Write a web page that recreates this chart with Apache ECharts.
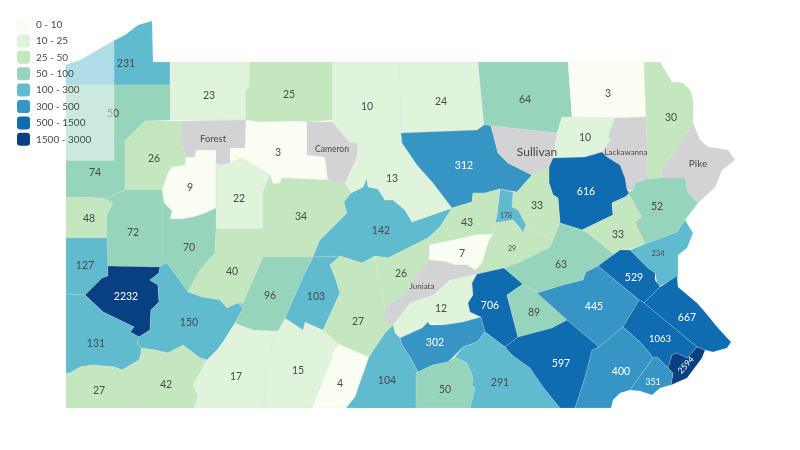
<!DOCTYPE html>
<html>
<head>
<meta charset="utf-8">
<style>html,body{margin:0;background:#fff}#chart-pa{width:800px;height:450px}</style>
<script src="https://cdn.jsdelivr.net/npm/echarts@6/dist/echarts.min.js"></script>
</head>
<body>
<div id="chart-pa"></div>
<script>
var counties = ['Erie','Crawford','Warren','McKean','Potter','Tioga','Bradford','Susquehanna','Wayne','Mercer','Venango','Forest','Elk','Cameron','Clarion','Jefferson','Clearfield','Lawrence','Butler','Armstrong','Indiana','Beaver','Allegheny','Westmoreland','Washington','Greene','Fayette','Somerset','Bedford','Fulton','Cambria','Blair','Centre','Clinton','Lycoming','Sullivan','Wyoming','Lackawanna','Pike','Luzerne','Columbia','Montour','Northumberland','Union','Snyder','Mifflin','Juniata','Huntingdon','Perry','Cumberland','Dauphin','Lebanon','Schuylkill','Carbon','Monroe','Northampton','Lehigh','Berks','Bucks','Montgomery','Philadelphia','Chester','Delaware','Franklin','Adams','York','Lancaster'];
var cases = [231,50,23,25,10,24,64,3,30,74,26,null,3,null,9,22,34,48,72,70,40,127,2232,150,131,27,42,17,15,4,96,103,142,13,312,null,10,null,null,616,33,178,29,43,7,26,null,27,12,302,706,89,63,33,52,234,529,445,667,1063,2594,400,351,104,50,291,597];
var binLabels = ['0 - 10','10 - 25','25 - 50','50 - 100','100 - 300','300 - 500','500 - 1500','1500 - 3000'];
var binEdges = [0,10,25,50,100,300,500,1500,3000];
var binColors = ['#f9fdf2','#e0f3db','#c4e7bf','#96d5bb','#60bbcf','#3795c5','#0f6cb0','#084081'];

// county outlines, in page pixels
var shapes = {
  Erie:[[65,65],[80,60],[113,41],[125,35],[138,25],[152,21],[153,62],[170,62],[170,85],[66,85]],
  Crawford:[[66,85],[170,85],[170,120],[145,121],[125,141],[66,141]],
  Warren:[[170,62],[250,62],[249,88],[246,90],[246,120],[170,120]],
  McKean:[[250,62],[332,62],[332,120],[307,122],[299,121],[260,122],[246,120],[246,90],[249,88]],
  Potter:[[332,62],[400,62],[401,133],[402,143],[350,143],[332,122],[332,120]],
  Tioga:[[400,62],[478,62],[484,125],[477,130],[401,133]],
  Bradford:[[478,62],[568,62],[572,117],[562,117],[557,133],[520,129],[491,126],[487,125],[484,125]],
  Susquehanna:[[568,62],[644,62],[646,117],[615,118],[572,117]],
  Wayne:[[644,62],[660,62],[672,82],[683,83],[690,90],[693,100],[693,123],[677,150],[663,165],[660,178],[648,179],[646,117]],
  Mercer:[[66,141],[125,141],[125,190],[105,199],[100,198],[66,197]],
  Venango:[[145,121],[182,121],[182,140],[185,155],[186,157],[185,165],[172,167],[168,173],[162,190],[125,190],[125,141]],
  Forest:[[182,121],[246,120],[245,148],[230,148],[230,163],[220,165],[216,163],[216,150],[196,150],[195,157],[186,157],[185,155],[182,140]],
  Elk:[[246,120],[260,122],[299,121],[307,124],[307,155],[325,157],[328,180],[282,178],[280,183],[273,184],[270,175],[242,158],[230,163],[230,148],[245,148]],
  Cameron:[[307,122],[332,122],[350,143],[357,143],[357,157],[345,183],[328,180],[325,157],[307,155]],
  Clarion:[[186,157],[195,157],[196,150],[216,150],[216,208],[203,214],[193,217],[182,219],[170,219],[172,211],[164,203],[162,190],[168,173],[172,167],[185,165]],
  Jefferson:[[216,163],[220,165],[230,163],[242,158],[270,175],[263,192],[263,229],[216,229]],
  Clearfield:[[263,192],[270,175],[273,184],[280,183],[282,178],[328,180],[345,183],[351,193],[344,202],[347,213],[333,227],[320,240],[313,257],[263,257],[263,229]],
  Lawrence:[[66,197],[100,198],[105,199],[113,203],[107,215],[107,238],[66,238]],
  Butler:[[125,190],[162,190],[162,265],[160,267],[108,266],[107,238],[107,215],[113,203],[105,199]],
  Armstrong:[[162,190],[164,203],[172,211],[170,219],[182,219],[193,217],[203,214],[216,208],[216,229],[215,253],[200,270],[188,292],[178,278],[172,270],[167,263],[162,265]],
  Indiana:[[216,229],[263,229],[263,257],[243,303],[238,303],[227,308],[220,300],[202,297],[188,292],[200,270],[215,253]],
  Beaver:[[66,238],[107,238],[108,266],[108,276],[102,278],[85,295],[66,294]],
  Allegheny:[[108,266],[160,267],[159,273],[150,280],[158,285],[159,302],[151,310],[150,330],[139,337],[130,332],[134,327],[103,312],[85,295],[102,278],[108,276]],
  Westmoreland:[[160,267],[162,265],[167,263],[172,270],[178,278],[188,292],[202,297],[220,300],[227,308],[238,303],[243,308],[235,323],[223,342],[217,350],[207,360],[200,358],[183,345],[168,353],[155,350],[141,348],[137,343],[139,337],[150,330],[151,310],[159,302],[158,285],[150,280],[159,273]],
  Washington:[[66,294],[85,295],[103,312],[134,327],[130,332],[139,337],[137,343],[141,348],[141,353],[139,360],[122,370],[115,367],[93,365],[80,367],[70,373],[66,373]],
  Greene:[[66,373],[70,373],[80,367],[93,365],[115,367],[122,370],[134,363],[134,408],[66,408]],
  Fayette:[[134,363],[139,360],[141,353],[141,348],[155,350],[168,353],[183,345],[200,358],[207,360],[205,363],[193,385],[198,395],[194,408],[134,408]],
  Somerset:[[207,360],[217,350],[223,342],[235,323],[253,330],[278,331],[268,358],[264,408],[194,408],[198,395],[193,385],[205,363]],
  Bedford:[[278,331],[285,318],[303,330],[305,322],[323,330],[339,344],[333,352],[332,358],[312,408],[264,408],[268,358]],
  Fulton:[[339,344],[369,357],[355,397],[346,408],[312,408],[332,358],[333,352]],
  Cambria:[[263,257],[313,257],[303,277],[293,300],[285,318],[278,331],[253,330],[235,323],[243,308],[238,303],[243,303]],
  Blair:[[313,257],[340,256],[330,265],[335,277],[340,293],[323,330],[305,322],[303,330],[285,318],[293,300],[303,277]],
  Centre:[[351,193],[363,187],[367,178],[368,187],[378,189],[385,200],[393,200],[405,210],[412,222],[452,208],[440,227],[428,238],[388,258],[375,256],[362,263],[340,256],[313,257],[320,240],[333,227],[347,213],[344,202]],
  Clinton:[[357,143],[402,143],[417,165],[433,183],[452,208],[412,222],[405,210],[393,200],[385,200],[378,189],[368,187],[367,178],[363,187],[351,193],[345,183],[357,157]],
  Lycoming:[[401,133],[477,130],[484,125],[487,125],[491,126],[498,153],[508,163],[532,175],[517,192],[500,189],[485,193],[473,193],[472,202],[452,208],[433,183],[417,165],[402,143]],
  Sullivan:[[491,126],[520,129],[557,133],[553,158],[549,167],[532,175],[508,163],[498,153]],
  Wyoming:[[562,117],[572,117],[615,118],[608,137],[611,140],[602,152],[585,157],[553,158],[557,133]],
  Lackawanna:[[615,118],[646,117],[648,179],[635,183],[633,190],[627,190],[625,178],[620,165],[607,157],[602,152],[611,140],[608,137]],
  Pike:[[693,123],[700,140],[708,147],[728,150],[735,160],[722,170],[715,187],[698,203],[688,193],[685,178],[660,178],[663,165],[677,150]],
  Luzerne:[[553,158],[585,157],[602,152],[607,157],[620,165],[625,178],[627,190],[630,193],[625,197],[612,203],[613,215],[582,230],[560,223],[558,198],[553,195],[549,183],[549,167]],
  Columbia:[[513,192],[517,192],[532,175],[549,167],[549,183],[553,195],[558,198],[560,223],[553,240],[526,225],[518,210],[512,207]],
  Montour:[[500,189],[513,192],[512,207],[518,210],[526,225],[523,233],[520,228],[513,220],[495,223],[497,215]],
  Northumberland:[[493,234],[495,223],[513,220],[520,228],[523,233],[526,225],[553,240],[550,247],[520,262],[504,268],[477,274],[475,270],[482,263],[488,243]],
  Union:[[452,208],[472,202],[473,193],[485,193],[500,189],[497,215],[495,223],[493,234],[473,235],[467,237],[429,245],[428,238],[440,227]],
  Snyder:[[429,245],[467,237],[473,235],[493,234],[488,243],[482,263],[475,270],[467,265],[455,265],[447,262],[429,260]],
  Mifflin:[[375,256],[388,258],[428,238],[429,245],[429,260],[418,273],[407,293],[385,307]],
  Juniata:[[429,260],[447,262],[455,265],[467,265],[475,270],[477,274],[450,280],[433,295],[410,303],[393,325],[385,320],[385,307],[407,293],[418,273]],
  Huntingdon:[[340,256],[362,263],[375,256],[385,307],[385,320],[393,325],[385,333],[369,357],[339,344],[323,330],[340,293],[335,277],[330,265]],
  Perry:[[393,325],[410,303],[433,295],[450,280],[477,274],[472,283],[473,295],[468,303],[470,312],[481,317],[463,322],[443,325],[428,322],[422,328],[400,338],[395,333]],
  Cumberland:[[400,338],[422,328],[428,322],[430,325],[443,325],[463,322],[481,317],[485,332],[477,342],[463,347],[448,362],[433,365],[418,372],[410,357],[402,345]],
  Dauphin:[[477,274],[504,268],[523,284],[507,295],[518,337],[505,347],[485,332],[481,317],[470,312],[468,303],[473,295],[472,283]],
  Lebanon:[[507,295],[523,284],[537,293],[567,320],[552,328],[518,337]],
  Schuylkill:[[504,268],[520,262],[550,247],[553,240],[560,223],[582,230],[585,231],[615,255],[598,266],[586,272],[583,280],[563,285],[537,293],[523,284]],
  Carbon:[[625,197],[612,203],[613,215],[582,230],[585,231],[615,255],[620,252],[645,244],[635,222],[642,217],[630,193]],
  Monroe:[[635,183],[648,179],[660,178],[685,178],[688,193],[698,203],[685,220],[677,232],[645,244],[635,222],[642,217],[628,192],[633,190]],
  Northampton:[[685,220],[693,233],[687,248],[678,255],[678,277],[658,287],[655,273],[648,268],[638,258],[630,250],[645,244],[677,232]],
  Lehigh:[[620,250],[630,250],[638,258],[648,268],[655,273],[655,280],[660,287],[644,303],[639,300],[598,266]],
  Berks:[[537,293],[563,285],[583,280],[586,272],[598,266],[639,300],[623,327],[599,347],[567,320]],
  Bucks:[[644,303],[660,287],[677,276],[678,287],[697,303],[705,312],[718,328],[731,342],[727,348],[713,352],[705,350],[697,347]],
  Montgomery:[[639,300],[644,303],[697,347],[687,358],[677,353],[672,355],[668,368],[657,357],[653,358],[647,350],[640,342],[623,327]],
  Philadelphia:[[672,355],[677,353],[687,358],[697,347],[705,350],[702,358],[687,378],[671,385],[673,373],[668,368]],
  Chester:[[599,347],[623,327],[640,342],[647,350],[653,358],[630,390],[620,393],[613,400],[611,408],[575,408],[585,377],[592,350]],
  Delaware:[[653,358],[657,357],[668,368],[673,373],[671,385],[660,388],[652,395],[640,391],[630,390]],
  Franklin:[[393,325],[395,333],[400,338],[402,345],[410,357],[418,372],[416,373],[416,408],[346,408],[355,397],[369,357],[385,333]],
  Adams:[[416,373],[418,372],[433,365],[448,362],[455,357],[467,363],[473,377],[472,385],[475,388],[470,408],[416,408]],
  York:[[455,357],[463,347],[477,342],[485,332],[505,347],[512,355],[530,368],[543,387],[560,408],[470,408],[475,388],[472,385],[473,377],[467,363]],
  Lancaster:[[505,347],[518,337],[552,328],[567,320],[599,347],[592,350],[585,377],[575,408],[560,408],[543,387],[530,368],[512,355]]
};
// label anchor per county, same order as counties
var labelAt = [[126,64],[113,114],[209,96],[289,95],[367,107],[441,102],[525,100],[608,94],[671,118],[95,173],[154,159],[213,139],[278,153],[332,149],[190,188],[239,199],[301,217],[89,219],[133,233],[189,248],[232,272],[85,266],[126,297],[189,323],[96,344],[99,391],[166,385],[236,377],[298,371],[340,384],[270,296],[316,297],[381,231],[392,179],[464,166],[537,152],[585,138],[626,152],[698,164],[586,192],[537,206],[506,216],[512,249],[467,223],[462,254],[401,274],[422,286],[358,322],[441,309],[435,343],[490,306],[534,313],[561,265],[618,235],[657,207],[658,254],[634,278],[594,307],[687,318],[660,339],[686,365],[621,372],[653,382],[387,381],[445,390],[500,383],[561,364]];
var labelSizes = {Montour:7, Northumberland:7, Northampton:7.5, Lackawanna:8, Juniata:8, Cameron:8.5, Forest:9.5, Sullivan:12, Pike:10, Philadelphia:8.5, Delaware:9, Montgomery:9.5};

var features = counties.map(function (name, i) {
  var ring = shapes[name].concat([shapes[name][0]]).map(function (p) { return [p[0], -p[1]]; });
  return {
    type: 'Feature',
    properties: { name: name, cp: [labelAt[i][0], -labelAt[i][1]] },
    geometry: { type: 'Polygon', coordinates: [ring] }
  };
});
echarts.registerMap('pa', { type: 'FeatureCollection', features: features });

var seriesData = counties.map(function (name, i) {
  var v = cases[i];
  var item = {
    name: name,
    value: v === null ? NaN : v,
    label: { color: v >= 300 ? '#fff' : '#4a4a4a', fontSize: labelSizes[name] || 10.5 }
  };
  if (name === 'Philadelphia') item.label.rotate = 48;
  return item;
});

var dom = document.getElementById('chart-pa');
var myChart = echarts.init(dom, null, { renderer: 'canvas' });

var option = {
  backgroundColor: '#fff',
  textStyle: { fontFamily: 'Lato' },
  visualMap: {
    type: 'piecewise',
    inverse: true,
    left: 7,
    top: 8,
    padding: [10, 23, 15, 10],
    backgroundColor: 'rgba(255,255,255,0.5)',
    itemWidth: 13,
    itemHeight: 13,
    itemGap: 3.4,
    itemSymbol: 'roundRect',
    orient: 'vertical',
    align: 'left',
    selectedMode: false,
    textGap: 6,
    textStyle: { color: '#4a4a4a', fontSize: 10, fontFamily: 'Lato' },
    pieces: binLabels.map(function (label, i) {
      return { gte: binEdges[i], lt: binEdges[i + 1], label: label, color: binColors[i] };
    })
  },
  series: [
    {
      type: 'map',
      map: 'pa',
      aspectScale: 1,
      left: 65,
      top: 21,
      width: 670,
      height: 387,
      roam: false,
      silent: true,
      selectedMode: false,
      itemStyle: {
        areaColor: '#d3d3d5',
        borderColor: 'rgba(214,220,220,0.45)',
        borderWidth: 0.5
      },
      label: {
        show: true,
        fontFamily: 'Lato',
        formatter: function (p) {
          return isNaN(p.value) ? p.name : String(p.value);
        }
      },
      emphasis: { disabled: true },
      data: seriesData
    }
  ]
};

myChart.setOption(option);
window.addEventListener('resize', myChart.resize);
</script>
</body>
</html>
